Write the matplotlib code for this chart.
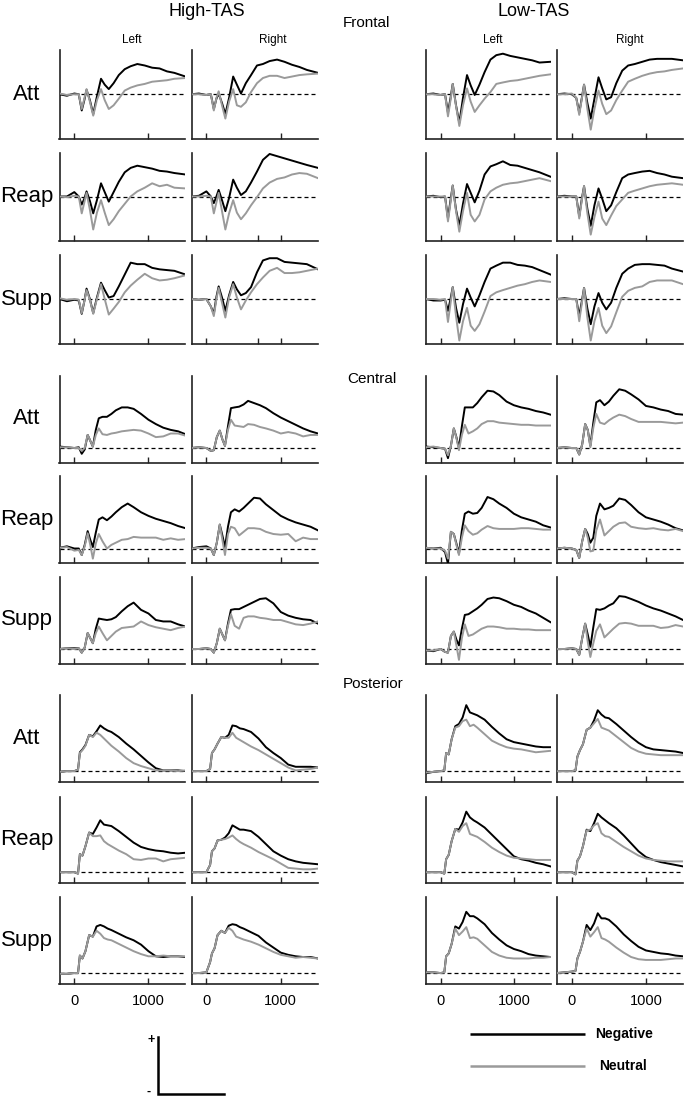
import matplotlib
matplotlib.use('Agg')
import matplotlib.pyplot as plt

plt.rcParams['font.family'] = ['Liberation Sans', 'DejaVu Sans']

# ---------------- time bases (ms) ----------------
T_FRONTAL = [-200, -100, 0, 60, 100, 135, 165, 210, 255, 305, 360, 410, 465, 530, 600, 680, 760, 850, 950, 1050, 1150, 1250, 1350, 1500]
T_CENTRAL = [-200, -100, 0, 60, 100, 140, 180, 215, 250, 290, 330, 380, 440, 500, 560, 640, 720, 800, 900, 1000, 1100, 1200, 1300, 1400, 1500]
T_POSTERIOR = [-200, -100, 0, 50, 75, 110, 150, 200, 250, 300, 350, 400, 450, 500, 600, 700, 800, 900, 1000, 1100, 1200, 1300, 1400, 1500]

# ---------------- Frontal ----------------
F_HIGH_ATT_L_NEG = [0.0, -0.2, 0.1, 0.0, -2.2, -0.8, 0.6, -0.8, -2.7, -0.3, 2.1, 1.3, 0.7, 1.5, 2.6, 3.4, 3.8, 4.1, 3.9, 3.6, 3.5, 3.1, 2.9, 2.4]
F_HIGH_ATT_L_NEU = [0.1, -0.1, 0.0, 0.0, -2.0, -0.6, 0.7, -1.0, -2.9, -0.8, 0.7, -0.8, -2.0, -1.5, -0.6, 0.5, 0.9, 1.2, 1.4, 1.7, 1.8, 1.9, 2.1, 2.2]
F_HIGH_ATT_R_NEG = [0.0, 0.1, -0.1, 0.0, -2.0, -0.6, 0.1, -1.2, -2.7, -0.5, 2.4, 1.3, 0.1, 1.5, 2.6, 3.9, 4.1, 4.5, 4.7, 4.4, 4.0, 3.7, 3.3, 2.9]
F_HIGH_ATT_R_NEU = [0.0, 0.0, -0.1, 0.0, -2.2, -0.5, 0.4, -1.5, -3.3, -1.0, 0.7, -1.5, -1.7, -1.1, 0.3, 1.5, 2.2, 2.5, 2.5, 2.2, 2.4, 2.6, 2.7, 2.8]
F_HIGH_REAP_L_NEG = [0.0, 0.0, 0.6, 0.0, -1.1, -0.3, 0.7, -0.6, -2.3, -0.5, 1.8, 0.6, -0.7, 0.6, 2.0, 3.3, 3.9, 4.2, 4.0, 3.8, 3.5, 3.4, 3.2, 3.0]
F_HIGH_REAP_L_NEU = [0.0, -0.1, 0.1, 0.0, -2.3, -0.8, 0.5, -1.8, -4.5, -2.2, -0.5, -2.2, -3.9, -3.1, -2.0, -1.0, 0.0, 0.7, 1.2, 1.8, 1.4, 1.6, 1.2, 1.1]
F_HIGH_REAP_R_NEG = [0.0, 0.1, 0.7, 0.0, -0.9, 0.0, 0.9, -0.5, -2.0, -0.2, 2.3, 1.2, 0.2, 0.7, 1.9, 3.4, 5.0, 5.8, 5.5, 5.2, 4.9, 4.6, 4.3, 3.9]
F_HIGH_REAP_R_NEU = [0.0, 0.0, 0.1, 0.0, -2.3, -0.8, 0.5, -2.0, -4.5, -2.3, -0.5, -2.2, -3.1, -2.3, -1.2, -0.1, 1.1, 1.9, 2.4, 2.6, 3.0, 3.2, 3.1, 2.5]
F_HIGH_SUPP_L_NEG = [0.0, -0.3, -0.1, -0.2, -2.0, -0.3, 1.4, 0.0, -1.9, 0.2, 2.2, 1.2, 0.2, 0.4, 1.7, 3.3, 4.9, 4.7, 4.7, 4.2, 4.0, 3.9, 3.8, 3.3]
F_HIGH_SUPP_L_NEU = [0.1, -0.1, 0.0, -0.1, -1.9, -0.3, 1.2, -0.1, -2.0, 0.0, 2.0, 0.0, -2.1, -1.3, -0.4, 0.9, 1.8, 2.6, 3.4, 2.8, 2.5, 2.6, 2.8, 3.2]
F_HIGH_SUPP_R_NEG = [0.0, -0.1, 0.0, -1.0, -2.0, 0.3, 1.7, 0.2, -1.6, 0.5, 2.3, 1.3, 0.5, 0.8, 1.6, 3.6, 5.2, 5.5, 5.5, 5.0, 4.9, 4.8, 4.7, 4.0]
F_HIGH_SUPP_R_NEU = [0.0, -0.1, 0.0, -1.0, -2.3, 0.0, 1.5, -0.5, -2.5, 0.2, 2.0, 0.2, -1.4, -0.2, 0.9, 2.0, 2.9, 3.8, 4.2, 3.5, 3.5, 3.6, 3.8, 4.1]
F_LOW_ATT_L_NEG = [0.0, 0.1, -0.1, 0.0, -2.5, -0.5, 1.4, -1.5, -3.9, -0.5, 2.6, 1.2, -0.1, 1.3, 3.0, 4.7, 5.3, 5.5, 5.2, 5.0, 4.8, 4.6, 4.3, 4.4]
F_LOW_ATT_L_NEU = [0.0, 0.0, -0.1, 0.0, -3.0, -0.8, 1.4, -1.6, -4.3, -1.5, 0.8, -1.0, -2.4, -1.5, -0.6, 0.3, 1.4, 1.6, 1.8, 1.9, 2.1, 2.3, 2.5, 2.7]
F_LOW_ATT_R_NEG = [0.0, 0.1, 0.0, -0.5, -2.5, -0.5, 1.3, -1.2, -3.3, -0.6, 2.3, 0.8, -0.7, -0.4, 1.5, 3.2, 3.9, 4.1, 4.4, 4.7, 4.8, 4.8, 4.8, 4.6]
F_LOW_ATT_R_NEU = [0.0, 0.0, 0.1, -0.5, -2.8, -0.6, 1.3, -2.0, -4.8, -2.0, 0.5, -1.3, -2.7, -2.2, -0.8, 0.5, 1.7, 2.1, 2.5, 2.8, 3.0, 3.1, 3.3, 3.5]
F_LOW_REAP_L_NEG = [0.0, 0.1, -0.1, 0.0, -3.0, -0.5, 1.5, -1.8, -4.0, -1.0, 1.7, 0.5, -0.8, 0.8, 3.0, 4.1, 4.4, 4.8, 4.3, 4.2, 3.9, 3.6, 3.3, 2.7]
F_LOW_REAP_L_NEU = [0.0, 0.0, 0.0, 0.0, -3.4, -0.8, 1.5, -2.0, -4.8, -2.0, 0.5, -2.5, -3.4, -2.5, -0.4, 0.7, 1.2, 1.6, 1.8, 1.9, 2.1, 2.3, 2.5, 2.1]
F_LOW_REAP_R_NEG = [0.0, 0.1, 0.0, 0.0, -2.7, -0.3, 1.4, -1.7, -4.0, -1.2, 1.1, -0.3, -2.0, -1.2, 0.6, 2.5, 3.0, 3.2, 3.4, 3.5, 3.2, 3.0, 2.7, 2.5]
F_LOW_REAP_R_NEU = [0.0, 0.0, 0.0, 0.0, -3.0, -0.5, 1.4, -2.3, -5.2, -2.8, -0.7, -3.0, -3.9, -2.6, -1.3, -0.4, 0.5, 0.8, 1.1, 1.4, 1.6, 1.7, 1.8, 1.6]
F_LOW_SUPP_L_NEG = [0.0, -0.2, -0.2, -0.1, -1.6, 0.0, 1.6, -1.2, -3.2, -0.7, 1.4, 0.2, -1.0, 0.5, 2.3, 4.1, 4.5, 4.9, 4.9, 4.6, 4.5, 4.3, 3.9, 3.3]
F_LOW_SUPP_L_NEU = [0.0, 0.0, -0.1, 0.0, -3.1, -0.6, 1.6, -2.3, -5.6, -3.0, -1.2, -3.6, -4.3, -3.4, -1.7, 0.4, 0.9, 1.2, 1.5, 1.8, 2.0, 2.3, 2.5, 2.3]
F_LOW_SUPP_R_NEG = [0.0, 0.1, 0.0, 0.0, -2.3, -0.3, 1.5, -1.3, -3.4, -1.0, 0.8, -0.5, -1.4, -0.5, 1.5, 3.4, 4.1, 4.6, 4.7, 4.7, 4.6, 4.5, 4.1, 3.7]
F_LOW_SUPP_R_NEU = [0.0, 0.0, 0.0, 0.0, -3.0, -0.6, 1.5, -2.5, -5.6, -3.0, -1.2, -3.6, -4.6, -3.7, -1.8, 0.3, 1.1, 1.5, 1.7, 2.3, 2.5, 2.5, 2.5, 2.0]

# ---------------- Central ----------------
C_HIGH_ATT_L_NEG = [0.2, 0.1, 0.0, 0.1, -0.8, -0.2, 1.8, 1.0, 0.2, 2.5, 4.1, 4.3, 4.3, 4.7, 5.2, 5.6, 5.6, 5.4, 4.7, 3.9, 3.3, 2.8, 2.5, 2.3, 1.9]
C_HIGH_ATT_L_NEU = [0.1, 0.1, 0.0, 0.0, -0.4, 0.0, 1.8, 1.0, 0.2, 1.8, 2.7, 1.9, 1.8, 2.0, 2.1, 2.3, 2.4, 2.5, 2.4, 2.0, 1.5, 1.6, 2.0, 2.0, 1.7]
C_HIGH_ATT_R_NEG = [0.0, 0.1, 0.0, -0.4, -0.3, 1.5, 2.4, 1.2, 0.3, 3.0, 5.5, 5.6, 5.7, 6.0, 6.5, 6.2, 5.9, 5.5, 4.8, 4.2, 3.7, 3.2, 2.7, 2.3, 2.0]
C_HIGH_ATT_R_NEU = [0.0, 0.1, 0.0, -0.4, -0.3, 1.5, 2.4, 1.2, 0.3, 2.5, 3.9, 3.1, 3.0, 2.9, 3.3, 3.2, 2.9, 2.7, 2.4, 2.0, 2.2, 2.0, 1.6, 1.8, 1.8]
C_HIGH_REAP_L_NEG = [0.1, 0.3, 0.0, 0.0, -0.9, 0.5, 2.4, 1.2, 0.2, 2.2, 4.0, 4.3, 3.9, 4.4, 5.0, 5.7, 6.2, 5.7, 5.0, 4.5, 4.1, 3.8, 3.5, 3.1, 2.8]
C_HIGH_REAP_L_NEU = [0.1, 0.2, -0.3, -0.2, -0.9, 0.3, 2.1, 0.5, -1.4, 0.7, 2.0, 1.0, 0.0, 0.5, 0.8, 1.2, 1.3, 1.6, 1.5, 1.5, 1.5, 1.2, 1.4, 1.2, 1.3]
C_HIGH_REAP_R_NEG = [0.0, 0.2, 0.3, 0.0, -0.9, 0.8, 3.3, 1.8, 0.2, 3.0, 5.0, 5.4, 5.1, 5.6, 6.2, 7.0, 6.9, 6.1, 5.3, 4.5, 4.0, 3.6, 3.3, 3.0, 2.5]
C_HIGH_REAP_R_NEU = [0.0, 0.1, 0.1, 0.0, -0.9, 0.8, 3.3, 1.2, -0.9, 2.0, 3.0, 2.8, 1.8, 2.3, 2.8, 2.8, 2.7, 2.3, 2.0, 1.9, 2.0, 1.0, 1.5, 1.3, 1.3]
C_HIGH_SUPP_L_NEG = [0.0, 0.1, 0.1, 0.1, -0.5, 0.2, 2.2, 1.5, 0.8, 2.8, 4.2, 4.1, 4.0, 4.1, 4.4, 5.2, 5.9, 6.4, 5.4, 4.9, 4.0, 3.8, 3.8, 3.4, 3.1]
C_HIGH_SUPP_L_NEU = [0.0, 0.1, 0.0, 0.1, -0.5, 0.2, 2.2, 1.5, 0.8, 2.2, 3.1, 2.2, 1.2, 1.8, 2.4, 2.9, 3.0, 3.1, 3.8, 3.3, 3.0, 2.8, 2.6, 2.9, 3.1]
C_HIGH_SUPP_R_NEG = [0.0, 0.0, 0.1, 0.0, -0.5, 0.8, 2.8, 2.0, 1.2, 3.5, 5.4, 5.5, 5.5, 5.8, 6.1, 6.5, 6.9, 7.0, 6.3, 5.1, 4.6, 4.3, 4.1, 4.0, 3.5]
C_HIGH_SUPP_R_NEU = [0.0, 0.0, 0.1, 0.0, -0.5, 0.8, 2.8, 2.0, 1.2, 3.2, 4.8, 3.2, 2.8, 4.3, 4.5, 4.5, 4.3, 4.2, 4.0, 4.0, 3.7, 3.4, 3.3, 3.5, 3.8]
C_LOW_ATT_L_NEG = [0.2, 0.1, 0.0, -0.1, -1.4, 0.3, 2.7, 1.5, 0.0, 3.0, 5.6, 5.6, 5.6, 6.2, 7.0, 7.9, 7.8, 7.3, 6.4, 5.9, 5.6, 5.4, 5.1, 4.9, 4.6]
C_LOW_ATT_L_NEU = [0.1, 0.2, 0.0, -0.1, -1.0, 0.3, 2.7, 1.4, -0.3, 1.8, 3.2, 2.0, 2.3, 2.7, 3.3, 3.7, 3.7, 3.5, 3.4, 3.3, 3.2, 3.2, 3.1, 3.1, 3.1]
C_LOW_ATT_R_NEG = [0.0, 0.1, 0.0, 0.0, -0.9, 0.5, 3.3, 2.5, 0.3, 3.5, 6.3, 6.6, 5.9, 6.4, 7.2, 8.1, 7.9, 7.4, 6.7, 5.8, 5.6, 5.3, 5.1, 4.7, 4.6]
C_LOW_ATT_R_NEU = [0.0, 0.1, 0.0, 0.0, -0.9, 0.5, 3.3, 2.5, 0.1, 2.8, 4.7, 3.5, 3.3, 3.8, 4.2, 4.6, 4.4, 4.0, 3.6, 3.6, 3.6, 3.6, 3.5, 3.4, 3.5]
C_LOW_REAP_L_NEG = [0.1, 0.0, 0.1, -0.5, -2.1, 2.3, 2.0, 0.7, -0.7, 2.5, 4.8, 5.1, 4.8, 4.9, 5.6, 7.1, 6.8, 6.2, 5.6, 4.8, 4.3, 4.0, 3.7, 3.2, 2.9]
C_LOW_REAP_L_NEU = [0.1, 0.0, 0.0, -0.3, -1.4, 2.3, 2.0, 0.5, -0.9, 1.5, 3.2, 2.4, 1.9, 2.1, 2.6, 3.1, 2.8, 2.7, 2.7, 2.7, 2.8, 2.8, 2.7, 2.6, 2.6]
C_LOW_REAP_R_NEG = [0.0, 0.1, 0.0, -0.2, -1.3, 1.0, 2.7, 2.0, 0.8, 1.5, 4.5, 6.2, 5.4, 5.6, 5.9, 6.9, 6.7, 6.0, 5.0, 4.3, 4.0, 3.7, 3.3, 2.8, 2.5]
C_LOW_REAP_R_NEU = [0.0, 0.1, 0.0, -0.2, -1.3, 1.0, 2.7, 1.5, -0.4, -0.3, 2.5, 4.0, 1.8, 2.4, 3.0, 3.5, 3.6, 3.0, 2.8, 2.7, 2.8, 2.6, 2.5, 2.7, 2.4]
C_LOW_SUPP_L_NEG = [-0.2, -0.3, 0.0, -0.4, -0.5, 1.8, 2.4, 1.3, 0.5, 2.8, 4.7, 4.8, 5.2, 5.6, 6.1, 6.9, 7.1, 7.0, 6.6, 6.1, 5.8, 5.3, 4.9, 4.3, 3.7]
C_LOW_SUPP_L_NEU = [-0.2, -0.2, 0.0, -0.4, -0.5, 1.8, 2.4, 0.5, -1.5, 1.5, 3.4, 1.8, 2.0, 2.4, 2.8, 3.1, 3.1, 3.0, 2.8, 2.8, 2.7, 2.7, 2.6, 2.6, 2.6]
C_LOW_SUPP_R_NEG = [0.0, 0.0, 0.1, 0.0, -0.8, 1.5, 3.5, 2.0, 0.3, 3.0, 5.5, 5.4, 5.6, 6.0, 6.3, 7.3, 7.2, 6.9, 6.5, 6.0, 5.6, 5.3, 4.9, 4.5, 4.0]
C_LOW_SUPP_R_NEU = [0.0, 0.0, 0.1, 0.0, -0.8, 1.5, 3.5, 1.0, -1.1, 0.8, 2.5, 3.4, 1.6, 2.2, 2.8, 3.5, 3.6, 3.5, 3.2, 3.2, 3.2, 2.9, 3.0, 3.3, 3.1]

# ---------------- Posterior ----------------
P_HIGH_ATT_L_NEG = [-0.1, 0.0, 0.0, 0.2, 2.6, 3.0, 3.6, 5.0, 4.8, 5.5, 6.3, 5.9, 5.6, 5.4, 4.7, 3.8, 3.0, 2.1, 1.2, 0.4, 0.1, 0.1, 0.1, 0.0]
P_HIGH_ATT_L_NEU = [-0.1, 0.0, 0.0, 0.2, 2.5, 2.9, 3.5, 5.0, 4.7, 5.3, 5.0, 4.5, 4.0, 3.5, 2.7, 1.8, 1.1, 0.7, 0.4, 0.1, 0.1, 0.1, 0.0, 0.1]
P_HIGH_ATT_R_NEG = [0.0, 0.0, 0.0, 0.3, 2.5, 3.0, 3.8, 4.7, 4.6, 5.0, 6.3, 6.2, 5.9, 5.8, 5.4, 4.5, 3.3, 2.5, 1.8, 0.9, 0.6, 0.6, 0.6, 0.5]
P_HIGH_ATT_R_NEU = [0.0, 0.0, 0.0, 0.3, 2.5, 3.0, 3.8, 4.7, 4.6, 4.6, 5.3, 4.6, 4.3, 4.0, 3.4, 2.9, 2.3, 1.7, 1.1, 0.5, 0.1, 0.2, 0.3, 0.5]
P_HIGH_REAP_L_NEG = [0.0, 0.0, 0.0, -0.2, 2.5, 2.3, 3.6, 5.5, 5.3, 6.2, 7.2, 6.6, 6.5, 6.4, 5.7, 4.9, 4.1, 3.5, 3.2, 3.0, 2.9, 2.7, 2.6, 2.7]
P_HIGH_REAP_L_NEU = [0.0, 0.0, 0.0, -0.2, 2.5, 2.3, 3.6, 5.5, 5.0, 5.0, 5.1, 4.3, 3.9, 3.6, 3.0, 2.5, 1.8, 1.7, 1.9, 1.9, 1.5, 1.8, 1.9, 2.0]
P_HIGH_REAP_R_NEG = [0.0, 0.0, 0.0, 1.0, 2.9, 3.3, 4.4, 4.5, 4.8, 5.4, 6.5, 6.2, 5.9, 5.9, 5.7, 4.9, 3.9, 2.9, 2.3, 1.8, 1.5, 1.3, 1.2, 1.1]
P_HIGH_REAP_R_NEU = [0.0, 0.0, 0.0, 1.0, 2.9, 3.3, 4.4, 4.5, 4.6, 4.8, 5.1, 4.6, 4.2, 3.9, 3.4, 2.8, 2.3, 1.8, 1.2, 0.6, 0.5, 0.4, 0.4, 0.5]
P_HIGH_SUPP_L_NEG = [-0.1, -0.1, 0.0, 0.0, 2.4, 2.0, 3.0, 5.2, 5.0, 6.4, 6.6, 6.4, 6.1, 5.9, 5.4, 4.9, 4.5, 3.9, 3.0, 2.3, 2.2, 2.3, 2.3, 2.2]
P_HIGH_SUPP_L_NEU = [-0.1, -0.1, 0.0, 0.0, 2.4, 2.0, 3.0, 5.2, 5.0, 5.8, 5.4, 4.8, 4.6, 4.5, 4.0, 3.5, 3.0, 2.6, 2.3, 2.3, 2.4, 2.3, 2.3, 2.3]
P_HIGH_SUPP_R_NEG = [0.0, 0.0, 0.1, 1.5, 2.7, 3.4, 5.2, 5.8, 5.5, 6.5, 6.7, 6.6, 6.3, 6.1, 5.6, 5.1, 4.2, 3.5, 2.8, 2.5, 2.3, 2.2, 2.2, 2.0]
P_HIGH_SUPP_R_NEU = [0.0, 0.0, 0.1, 1.5, 2.7, 3.4, 5.2, 5.8, 5.5, 6.2, 5.8, 5.0, 4.8, 4.6, 4.3, 3.9, 3.4, 2.9, 2.5, 2.3, 2.1, 2.2, 2.1, 2.0]
P_LOW_ATT_L_NEG = [-0.3, -0.1, 0.0, 0.1, 2.5, 2.3, 4.4, 6.2, 6.5, 7.4, 9.1, 8.1, 7.9, 7.7, 7.1, 6.1, 5.2, 4.4, 4.0, 3.8, 3.6, 3.4, 3.3, 3.3]
P_LOW_ATT_L_NEU = [-0.2, -0.1, 0.0, 0.1, 2.5, 2.3, 4.4, 6.0, 6.2, 6.9, 7.1, 6.2, 6.4, 6.0, 5.1, 4.2, 3.7, 3.3, 3.1, 3.0, 2.8, 2.6, 2.7, 2.8]
P_LOW_ATT_R_NEG = [0.0, 0.0, 0.0, 0.1, 2.0, 2.9, 3.7, 5.7, 6.0, 7.0, 8.4, 7.8, 7.4, 7.3, 6.5, 5.6, 4.7, 3.9, 3.3, 3.0, 2.9, 2.8, 2.7, 2.5]
P_LOW_ATT_R_NEU = [0.0, 0.0, 0.0, 0.1, 2.0, 2.9, 3.7, 5.7, 6.0, 6.6, 7.2, 6.0, 5.8, 5.6, 4.8, 4.0, 3.2, 2.7, 2.4, 2.3, 2.2, 2.2, 2.2, 2.2]
P_LOW_REAP_L_NEG = [0.0, 0.0, 0.0, -0.2, 1.8, 2.4, 4.3, 6.0, 5.9, 6.9, 8.4, 7.6, 7.2, 6.9, 6.2, 5.2, 4.2, 3.2, 2.2, 1.8, 1.6, 1.3, 1.1, 0.8]
P_LOW_REAP_L_NEU = [0.0, 0.0, 0.0, -0.2, 1.8, 2.4, 4.3, 6.0, 5.6, 6.4, 6.8, 5.3, 5.1, 4.9, 4.2, 3.4, 2.8, 2.3, 2.0, 1.9, 1.8, 1.7, 1.7, 1.7]
P_LOW_REAP_R_NEG = [0.0, 0.0, 0.0, -0.3, 1.6, 2.2, 3.6, 5.9, 5.7, 6.8, 8.1, 7.6, 7.2, 6.8, 6.1, 5.1, 4.0, 2.9, 2.1, 1.7, 1.4, 1.2, 1.0, 0.8]
P_LOW_REAP_R_NEU = [0.0, 0.0, 0.0, -0.3, 1.6, 2.2, 3.6, 5.8, 5.9, 6.5, 6.8, 5.4, 5.0, 4.9, 4.2, 3.5, 2.9, 2.3, 1.9, 1.7, 1.6, 1.5, 1.5, 1.5]
P_LOW_SUPP_L_NEG = [0.1, 0.1, 0.0, 0.1, 2.3, 2.7, 4.0, 6.4, 6.1, 7.0, 8.4, 7.8, 7.8, 7.5, 6.7, 5.5, 4.6, 3.8, 3.3, 3.0, 2.6, 2.4, 2.3, 2.2]
P_LOW_SUPP_L_NEU = [0.1, 0.1, 0.0, 0.1, 2.3, 2.7, 4.0, 6.1, 5.2, 5.7, 6.3, 4.8, 4.9, 4.7, 3.8, 2.9, 2.4, 2.1, 2.0, 2.0, 2.0, 2.1, 2.1, 2.2]
P_LOW_SUPP_R_NEG = [0.0, 0.1, 0.2, 0.3, 2.0, 2.9, 4.3, 6.6, 5.9, 6.8, 8.2, 7.5, 7.5, 7.3, 6.4, 5.3, 4.4, 3.6, 3.1, 2.9, 2.7, 2.6, 2.4, 2.3]
P_LOW_SUPP_R_NEU = [0.0, 0.1, 0.2, 0.3, 2.0, 2.9, 4.3, 6.1, 5.0, 5.6, 6.3, 4.8, 4.6, 4.3, 3.5, 2.8, 2.2, 1.9, 1.8, 1.8, 1.8, 1.9, 2.0, 2.0]

GROUP_LABELS = ['High-TAS', 'Low-TAS']
SIDE_LABELS = ['Left', 'Right']
REGION_LABELS = ['Frontal', 'Central', 'Posterior']
CONDITION_LABELS = ['Att', 'Reap', 'Supp']
LEGEND_LABELS = ['Negative', 'Neutral']
X_TICKS = [0, 1000]
X_TICK_LABELS = ['0', '1000']

# ---------------- assemble ----------------
G = globals()
PREFIX = {'Frontal': 'F', 'Central': 'C', 'Posterior': 'P'}
TIMES = {'Frontal': T_FRONTAL, 'Central': T_CENTRAL, 'Posterior': T_POSTERIOR}
YLIMS = {'Frontal': (-6, 6), 'Central': (-2, 10), 'Posterior': (-1.5, 10.5)}

W, H = 685, 1096
fig = plt.figure(figsize=(W / 100, H / 100), dpi=100)

# overlay in pixel coords
ov = fig.add_axes([0, 0, 1, 1])
ov.set_xlim(0, W)
ov.set_ylim(H, 0)
ov.axis('off')

COLS = [(59.5, 185.5), (191.5, 318.0), (426.0, 550.5), (557.0, 683.0)]
ROWS = {
    'Frontal': [(50.0, 138.5), (152.5, 240.5), (254.5, 343.5)],
    'Central': [(375.5, 462.5), (476.0, 563.0), (576.5, 663.5)],
    'Posterior': [(695.0, 782.0), (796.5, 883.0), (896.5, 984.0)],
}
BLACK = '#000000'
GRAY = '#9a9a9a'

for region in REGION_LABELS:
    t = TIMES[region]
    for ri, cond in enumerate(CONDITION_LABELS):
        top, bot = ROWS[region][ri]
        for ci in range(4):
            grp = 'HIGH' if ci < 2 else 'LOW'
            side = 'L' if ci % 2 == 0 else 'R'
            key = f"{PREFIX[region]}_{grp}_{cond.upper()}_{side}"
            neg = G[key + '_NEG']
            neu = G[key + '_NEU']
            x0, x1 = COLS[ci]
            ax = fig.add_axes([x0 / W, 1 - bot / H, (x1 - x0) / W, (bot - top) / H])
            ax.set_xlim(-200, 1500)
            ax.set_ylim(*YLIMS[region])
            ax.patch.set_alpha(0)
            ax.axhline(0, color='black', lw=0.9, ls=(0, (3.2, 2.4)), zorder=1)
            ax.plot(t, neg, color=BLACK, lw=1.4, zorder=3)
            ax.plot(t, neu, color=GRAY, lw=1.4, zorder=4)
            for s in ['top', 'right']:
                ax.spines[s].set_visible(False)
            for s in ['left', 'bottom']:
                ax.spines[s].set_linewidth(1.2)
                ax.spines[s].set_color('#222222')
            ax.set_yticks([])
            ticks = list(X_TICKS)
            if region == 'Frontal' and ci == 1 and ri > 0:
                ticks = [0, 700, 1000]
            ax.set_xticks(ticks)
            ax.tick_params(axis='x', direction='in', length=4, width=1.0, pad=7,
                           labelsize=10.5, color='#222222')
            if region == 'Posterior' and ri == 2:
                ax.set_xticklabels(X_TICK_LABELS)
            else:
                ax.set_xticklabels([''] * len(ticks))
        # row label
        ov.text(27, (top + bot) / 2, cond, fontsize=16, ha='center', va='center')

# headers
ov.text(207, 12, GROUP_LABELS[0], fontsize=13, ha='center', va='center')
ov.text(534, 12, GROUP_LABELS[1], fontsize=13, ha='center', va='center')
ov.text(131.5, 40, SIDE_LABELS[0], fontsize=8.5, ha='center', va='center')
ov.text(273, 40, SIDE_LABELS[1], fontsize=8.5, ha='center', va='center')
ov.text(493, 40, SIDE_LABELS[0], fontsize=8.5, ha='center', va='center')
ov.text(630, 40, SIDE_LABELS[1], fontsize=8.5, ha='center', va='center')
ov.text(343, 23, REGION_LABELS[0], fontsize=11, ha='left', va='center')
ov.text(347, 379, REGION_LABELS[1], fontsize=11, ha='left', va='center')
ov.text(343, 684, REGION_LABELS[2], fontsize=11, ha='left', va='center')

# legend
ov.plot([470, 585], [1034, 1034], color=BLACK, lw=1.8, solid_capstyle='butt')
ov.plot([470, 585], [1066, 1066], color=GRAY, lw=1.8, solid_capstyle='butt')
ov.text(595, 1034, LEGEND_LABELS[0], fontsize=10, fontweight='bold', ha='left', va='center')
ov.text(599, 1066, LEGEND_LABELS[1], fontsize=10, fontweight='bold', ha='left', va='center')

# polarity scale bar
ov.plot([158, 158, 224], [1037, 1094, 1094], color=BLACK, lw=1.8, solid_joinstyle='miter')
ov.text(151, 1040, '+', fontsize=9, fontweight='bold', ha='center', va='center')
ov.text(149, 1092, '-', fontsize=9, fontweight='bold', ha='center', va='center')

fig.savefig('out.png', dpi=100)
